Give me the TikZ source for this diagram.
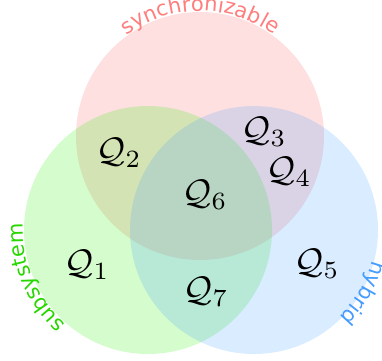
\documentclass[tikz,border=0pt]{standalone}
\usepackage{fontspec}
\newfontfamily\labelfont{DejaVu Sans}
\usetikzlibrary{decorations.text}
\definecolor{cred}{RGB}{255,100,100}
\definecolor{cgreen}{RGB}{40,240,0}
\definecolor{cblue}{RGB}{70,160,255}
\definecolor{lred}{RGB}{255,125,125}
\definecolor{lgreen}{RGB}{40,215,0}
\definecolor{lblue}{RGB}{70,155,255}
\newcommand{\lblsize}{\fontsize{21}{23}\selectfont}
\begin{document}
\begin{tikzpicture}[x=1pt,y=1pt,
  setfill/.style={fill=#1, fill opacity=0.2},
  qlabel/.style={scale=3.55, inner sep=0pt},
  arclabel/.style 2 args={decorate, decoration={text along path, text align=center,
     text color=#1, text={|\labelfont\lblsize|#2}}}]
\useasboundingbox (0,0) rectangle (382,360);
\coordinate (cR) at (200,224);
\coordinate (cG) at (148,130);
\coordinate (cB) at (254,130);
\fill[setfill=cred] (cR) circle[radius=124pt];
\fill[setfill=cgreen] (cG) circle[radius=124pt];
\fill[setfill=cblue] (cB) circle[radius=124pt];
\path[arclabel={lred}{synchronizable}] ([shift={(cR)}]150:125pt) arc[start angle=150, end angle=30, radius=125pt];
\path[arclabel={lgreen}{subsystem}] ([shift={(cG)}]263:125pt) arc[start angle=263, end angle=143, radius=125pt];
\path[arclabel={lblue}{hybrid}] ([shift={(cB)}]30:122pt) arc[start angle=30, end angle=-90, radius=122pt];
\node[qlabel] (q1) at (87,95) {$\mathcal{Q}_1$};
\node[qlabel] (q2) at (119,207) {$\mathcal{Q}_2$};
\node[qlabel] (q3) at (264,228) {$\mathcal{Q}_3$};
\node[qlabel] (q4) at (289,188) {$\mathcal{Q}_4$};
\node[qlabel] (q5) at (317,96) {$\mathcal{Q}_5$};
\node[qlabel] (q6) at (205,165) {$\mathcal{Q}_6$};
\node[qlabel] (q7) at (206,68) {$\mathcal{Q}_7$};
\end{tikzpicture}
\end{document}
